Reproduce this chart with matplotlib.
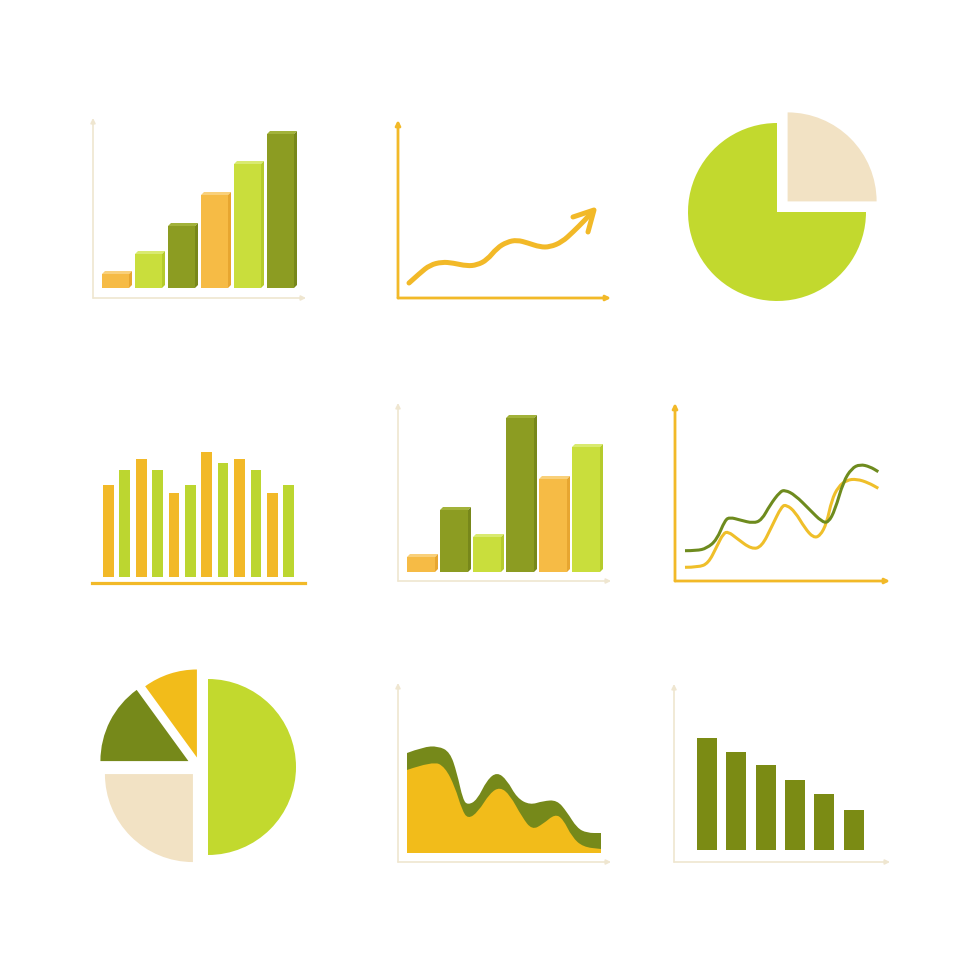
import matplotlib
matplotlib.use('Agg')
import matplotlib.pyplot as plt
from matplotlib.path import Path
from matplotlib.patches import PathPatch

# colours
ORANGE = '#f6bb45'
LGREEN = '#c9de3c'
OLIVE = '#8c9c22'
GOLD = '#f2b928'
BEIGE = '#f2e2c4'
AXIS_BEIGE = '#efe6d0'
PIE_GREEN = '#c2d92e'
DARK_OLIVE = '#7b8b14'

# --- data ---
# top-left 3D bars
bars1_heights = [17, 37, 65, 96, 127, 157]
bars1_colors = ['orange', 'lgreen', 'olive', 'orange', 'lgreen', 'olive']

# top-middle rising line (x, y)
rise_x = [11, 22, 32, 44, 55, 69, 79, 89, 99, 109, 119, 130, 142, 152, 164, 175, 187, 194]
rise_y = [15, 25, 33, 36, 35, 32, 33, 38, 50, 56, 58, 55, 51, 51, 56, 66, 78, 86]

# top-right pie
pie1_sizes = [25, 75]

# middle-left thin bars
thin_heights = [92, 107, 118, 107, 84, 92, 125, 114, 118, 107, 84, 92]

# centre 3D bars
bars2_heights = [18, 65, 38, 157, 96, 128]
bars2_colors = ['orange', 'olive', 'lgreen', 'olive', 'orange', 'lgreen']

# middle-right two wavy lines
wave_g_x = [10, 21.7, 31.7, 41.7, 50, 55, 65, 78.3, 86.7, 95, 105, 110, 120, 135, 146.7, 153.3, 160, 168.3, 176.7, 185, 195, 203.3]
wave_g_y = [30.3, 30.3, 32.7, 41, 61, 63.7, 61, 57.7, 61, 76, 89.3, 91, 86, 71, 59.3, 58.3, 71, 99.3, 112.7, 116.7, 114.3, 109.3]
wave_y_x = [10, 23.3, 33.3, 41.7, 48.3, 53.3, 61.7, 76.7, 86.7, 96.7, 106.7, 111.7, 120, 130, 138.3, 145, 151.7, 156.7, 163.3, 171.7, 181.7, 193.3, 203.3]
wave_y_y = [13.7, 13.7, 17.7, 34.3, 47.7, 49.3, 42.7, 31.7, 34.3, 54.3, 75, 76, 69.3, 52.7, 43.3, 45, 57.7, 81, 94.3, 101, 102, 98.3, 92.7]

# bottom-left exploded pie
pie2_sizes = [10, 15, 25, 50]

# bottom-middle area chart
area_o_x = [9, 25, 40, 52, 59, 65, 70, 79, 89, 99, 109, 119, 132, 145, 159, 169, 179, 189, 203]
area_o_y = [109, 115, 116, 110, 89, 62, 57, 62, 82, 90, 82, 64, 57, 61, 62, 50, 34, 29, 29]
area_y_x = [9, 35, 47, 57, 64, 70, 80, 92, 102, 112, 124, 134, 145, 157, 165, 174, 185, 203]
area_y_y = [92, 101, 95, 75, 52, 43, 50, 69, 75, 67, 45, 32, 38, 48, 43, 25, 15, 13]

# bottom-right descending bars
desc_heights = [112, 98, 85, 70, 56, 40]

SHADES = {
    'orange': ('#f6bb45', '#f9d07a', '#e7a630'),
    'lgreen': ('#c9de3c', '#d9ea70', '#b5cb2c'),
    'olive': ('#8c9c22', '#a2b23a', '#77871a'),
}

fig = plt.figure(figsize=(9.8, 9.8), dpi=100)
fig.patch.set_facecolor('white')


def panel(x0, y0, w, h, m=20):
    # x0, y0: pixel position of the axis corner; 1 data unit = 1 pixel
    ax = fig.add_axes([(x0 - m) / 980, (980 - y0 - m) / 980, (w + 2 * m) / 980, (h + 2 * m) / 980])
    ax.set_xlim(-m, w + m)
    ax.set_ylim(-m, h + m)
    ax.axis('off')
    return ax


def axis_arrows(ax, w, h, color, lw):
    for xy in [(0, h), (w, 0)]:
        ax.annotate('', xy=xy, xytext=(0, 0),
                    arrowprops=dict(arrowstyle='-|>', color=color, lw=lw,
                                    mutation_scale=7, shrinkA=0, shrinkB=0))


def smooth(xs, ys, base=None):
    # quadratic bezier path through the read points (points used as controls)
    verts = [(xs[0], ys[0])]
    codes = [Path.MOVETO]
    for i in range(1, len(xs) - 1):
        verts += [(xs[i], ys[i]), ((xs[i] + xs[i + 1]) / 2, (ys[i] + ys[i + 1]) / 2)]
        codes += [Path.CURVE3, Path.CURVE3]
    verts.append((xs[-1], ys[-1]))
    codes.append(Path.LINETO)
    if base is not None:
        verts += [(xs[-1], base), (xs[0], base), (xs[0], ys[0])]
        codes += [Path.LINETO, Path.LINETO, Path.CLOSEPOLY]
    return Path(verts, codes)


def bars3d(ax, heights, colors, left0, pitch, width, base, d=3):
    for i, (hh, c) in enumerate(zip(heights, colors)):
        front, top, side = SHADES[c]
        x = left0 + i * pitch
        ax.bar(x, hh - d, width=width - d, bottom=base, align='edge', color=front, lw=0)
        ax.fill([x, x + d, x + width, x + width - d],
                [base + hh - d, base + hh, base + hh, base + hh - d], color=top, lw=0)
        ax.fill([x + width - d, x + width - d, x + width, x + width],
                [base, base + hh - d, base + hh, base + d], color=side, lw=0)


# 1. top-left 3D bars
ax = panel(93, 298, 213, 180)
axis_arrows(ax, 213, 180, AXIS_BEIGE, 1.2)
bars3d(ax, bars1_heights, bars1_colors, 9, 33, 30, 10)

# 2. top-middle rising arrow line
ax = panel(398, 298, 213, 178)
axis_arrows(ax, 213, 178, GOLD, 2.0)
ax.add_patch(PathPatch(smooth(rise_x, rise_y), fill=False, edgecolor=GOLD, lw=3.6,
                       capstyle='round', joinstyle='round'))
ax.plot([175, 196, 190], [81, 88, 66], color=GOLD, lw=3.6,
        solid_capstyle='round', solid_joinstyle='round')

# 3. top-right pie
ax = panel(777 - 100, 212 + 100, 200, 200, m=0)
ax.pie(pie1_sizes, colors=[BEIGE, PIE_GREEN], startangle=90, counterclock=False,
       radius=89, center=(100, 100), explode=[15, 0], wedgeprops=dict(lw=0))
ax.set_xlim(0, 200)
ax.set_ylim(0, 200)

# 4. middle-left thin bars
ax = panel(92, 583, 213, 140)
for i, hh in enumerate(thin_heights):
    ax.bar(11 + i * 16.4, hh, width=10.7, bottom=6, align='edge',
           color=GOLD if i % 2 == 0 else '#bcd630', lw=0)
ax.plot([0, 213], [0, 0], color=GOLD, lw=2.3)

# 5. centre 3D bars
ax = panel(398, 581, 213, 178)
axis_arrows(ax, 213, 178, AXIS_BEIGE, 1.2)
bars3d(ax, bars2_heights, bars2_colors, 9, 33, 31, 9)

# 6. middle-right two wavy lines
ax = panel(675, 581, 215, 178)
axis_arrows(ax, 215, 178, GOLD, 2.0)
ax.add_patch(PathPatch(smooth(wave_y_x, wave_y_y), fill=False, edgecolor='#efbf2a', lw=2.2))
ax.add_patch(PathPatch(smooth(wave_g_x, wave_g_y), fill=False, edgecolor='#6e8b1e', lw=2.2))

# 7. bottom-left exploded pie
ax = panel(200 - 110, 767 + 110, 220, 220, m=0)
ax.pie(pie2_sizes, colors=['#f2bc1a', '#76891a', BEIGE, PIE_GREEN], startangle=90,
       radius=88, center=(110, 110), explode=[10, 13, 10, 8], wedgeprops=dict(lw=0))
ax.set_xlim(0, 220)
ax.set_ylim(0, 220)

# 8. bottom-middle area chart
ax = panel(398, 862, 213, 179)
axis_arrows(ax, 213, 179, AXIS_BEIGE, 1.2)
ax.add_patch(PathPatch(smooth(area_o_x, area_o_y, base=9), facecolor='#76891a', lw=0))
ax.add_patch(PathPatch(smooth(area_y_x, area_y_y, base=9), facecolor='#f2bc1a', lw=0))

# 9. bottom-right descending bars
ax = panel(674, 862, 216, 178)
axis_arrows(ax, 216, 178, AXIS_BEIGE, 1.2)
for i, hh in enumerate(desc_heights):
    ax.bar(23 + i * 29.3, hh, width=20, bottom=12, align='edge', color=DARK_OLIVE, lw=0)

plt.savefig('out.png', dpi=100, facecolor='white')
